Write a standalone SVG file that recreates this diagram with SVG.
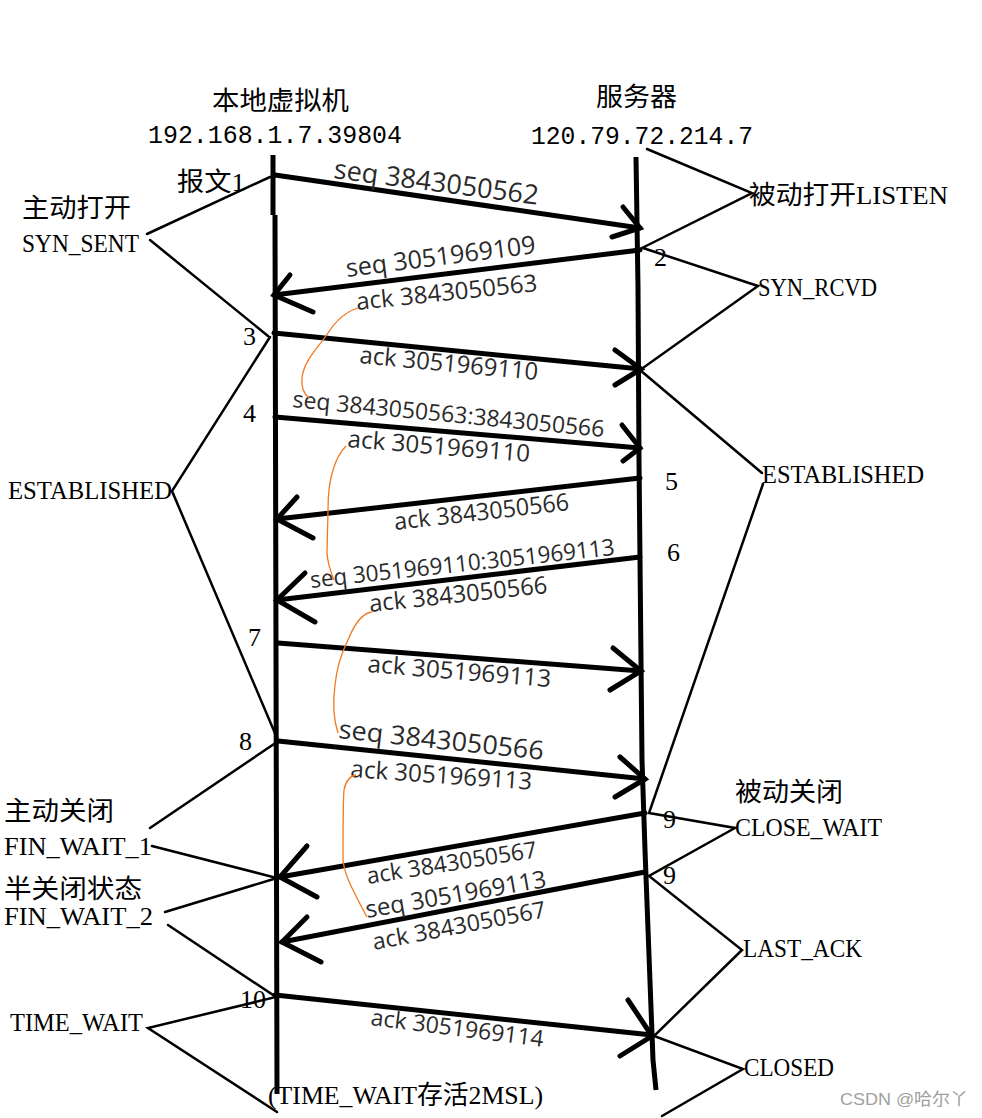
<svg xmlns="http://www.w3.org/2000/svg" width="982" height="1118" viewBox="0 0 982 1118">
<style>
.life{stroke:#000;stroke-width:5;fill:none;stroke-linejoin:round}
.msg{stroke:#000;stroke-width:5;fill:none;stroke-linecap:round}
.head{stroke:#000;stroke-width:5;fill:none;stroke-linecap:round;stroke-linejoin:miter}
.thin{stroke:#000;stroke-width:2.5;fill:none;stroke-linecap:round}
.note{stroke:#f07a22;stroke-width:1.3;fill:none}
.lbl{font-family:"Open Sans","Liberation Sans",sans-serif;fill:#2a2a2a}
.st{font-family:"Liberation Serif","Noto Sans CJK SC",serif;font-size:26px;fill:#000}
.ip{font-family:"Liberation Mono","Noto Sans CJK SC",monospace;font-size:26px;fill:#000}
.wm{font-family:"Liberation Sans","Noto Sans CJK SC",sans-serif;font-size:17px;fill:#a0a0a0}
</style>
<rect width="982" height="1118" fill="#fff"/>

<g id="host-local">
  <text class="st" x="212" y="110" textLength="137" lengthAdjust="spacingAndGlyphs">本地虚拟机</text>
  <text class="ip" x="148" y="143" textLength="254" lengthAdjust="spacingAndGlyphs">192.168.1.7.39804</text>
  <path class="life" d="M273 155 L273 215 M275 215 L277 1094"/>
</g>

<g id="host-server">
  <text class="st" x="596" y="106" textLength="81" lengthAdjust="spacingAndGlyphs">服务器</text>
  <text class="ip" x="531" y="144" textLength="222" lengthAdjust="spacingAndGlyphs">120.79.72.214.7</text>
  <path class="life" d="M636 157 L638 287 L639 460 L642 760 L645 850 L653 1060 L656 1090"/>
</g>

<g id="states-left">
  <text class="st" x="177" y="191" textLength="68" lengthAdjust="spacingAndGlyphs">报文1</text>
  <text class="st" x="22" y="217" textLength="109" lengthAdjust="spacingAndGlyphs">主动打开</text>
  <text class="st" x="22" y="252" textLength="117" lengthAdjust="spacingAndGlyphs">SYN_SENT</text>
  <text class="st" x="8" y="499" textLength="164" lengthAdjust="spacingAndGlyphs">ESTABLISHED</text>
  <text class="st" x="4" y="820" textLength="110" lengthAdjust="spacingAndGlyphs">主动关闭</text>
  <text class="st" x="4" y="855" textLength="148" lengthAdjust="spacingAndGlyphs">FIN_WAIT_1</text>
  <text class="st" x="4" y="898" textLength="138" lengthAdjust="spacingAndGlyphs">半关闭状态</text>
  <text class="st" x="4" y="925" textLength="149" lengthAdjust="spacingAndGlyphs">FIN_WAIT_2</text>
  <text class="st" x="10" y="1031" textLength="133" lengthAdjust="spacingAndGlyphs">TIME_WAIT</text>
  <text class="st" x="268" y="1104" textLength="275" lengthAdjust="spacingAndGlyphs">(TIME_WAIT存活2MSL)</text>
</g>

<g id="states-right">
  <text class="st" x="749" y="204" textLength="199" lengthAdjust="spacingAndGlyphs">被动打开LISTEN</text>
  <text class="st" x="758" y="296" textLength="119" lengthAdjust="spacingAndGlyphs">SYN_RCVD</text>
  <text class="st" x="762" y="483" textLength="162" lengthAdjust="spacingAndGlyphs">ESTABLISHED</text>
  <text class="st" x="735" y="801" textLength="108" lengthAdjust="spacingAndGlyphs">被动关闭</text>
  <text class="st" x="735" y="836" textLength="147" lengthAdjust="spacingAndGlyphs">CLOSE_WAIT</text>
  <text class="st" x="743" y="957" textLength="119" lengthAdjust="spacingAndGlyphs">LAST_ACK</text>
  <text class="st" x="744" y="1076" textLength="90" lengthAdjust="spacingAndGlyphs">CLOSED</text>
</g>

<g id="step-numbers">
  <text class="st" x="654" y="266">2</text>
  <text class="st" x="243" y="345">3</text>
  <text class="st" x="243" y="422">4</text>
  <text class="st" x="665" y="490">5</text>
  <text class="st" x="667" y="561">6</text>
  <text class="st" x="248" y="646">7</text>
  <text class="st" x="239" y="750">8</text>
  <text class="st" x="663" y="828">9</text>
  <text class="st" x="663" y="884">9</text>
  <text class="st" x="240" y="1008" textLength="26" lengthAdjust="spacingAndGlyphs">10</text>
</g>

<g id="connectors">
  <g id="state-lines">
    <path class="thin" d="M147 234 L270 177 M150 240 L268 336"/>
    <path class="thin" d="M270 337 L172 491 L277 738"/>
    <path class="thin" d="M277 742 L150 828 M152 846 L277 878 L165 912 M168 925 L276 997 L148 1028 L277 1112"/>
    <path class="thin" d="M647 149 L752 193 L640 249 M643 248 L758 286 L640 370 L762 473 M763 484 L649 813 L735 828 L649 876 L742 950 L654 1036 L743 1069 L662 1116"/>
  </g>
  <g id="msg1">
    <path class="msg" d="M275 175 L640 228"/>
    <path class="head" d="M623 207 L640 228 L612 237"/>
    <text class="lbl" font-size="27" transform="translate(333,178) rotate(7.5)" textLength="206" lengthAdjust="spacingAndGlyphs">seq 3843050562</text>
  </g>
  <g id="msg2">
    <path class="msg" d="M640 250 L274 295"/>
    <path class="head" d="M290 275 L274 295 L313 312"/>
    <text class="lbl" font-size="25" transform="translate(347,277) rotate(-7.2)" textLength="191" lengthAdjust="spacingAndGlyphs">seq 3051969109</text>
    <text class="lbl" font-size="24" transform="translate(357,310) rotate(-6)" textLength="182" lengthAdjust="spacingAndGlyphs">ack 3843050563</text>
  </g>
  <g id="msg3">
    <path class="msg" d="M274 333 L641 369"/>
    <path class="head" d="M615 350 L641 369 L615 385"/>
    <text class="lbl" font-size="24" transform="translate(359,363) rotate(5.5)" textLength="179" lengthAdjust="spacingAndGlyphs">ack 3051969110</text>
  </g>
  <g id="msg4">
    <path class="msg" d="M275 417 L640 448"/>
    <path class="head" d="M622 425 L640 448 L623 461"/>
    <text class="lbl" font-size="23" transform="translate(292,407) rotate(5.5)" textLength="313" lengthAdjust="spacingAndGlyphs">seq 3843050563:3843050566</text>
    <text class="lbl" font-size="24" transform="translate(347,447) rotate(4.7)" textLength="183" lengthAdjust="spacingAndGlyphs">ack 3051969110</text>
  </g>
  <g id="msg5">
    <path class="msg" d="M640 478 L277 519"/>
    <path class="head" d="M297 497 L277 519 L313 538"/>
    <text class="lbl" font-size="24" transform="translate(395,530) rotate(-6.5)" textLength="176" lengthAdjust="spacingAndGlyphs">ack 3843050566</text>
  </g>
  <g id="msg6">
    <path class="msg" d="M640 557 L277 600"/>
    <path class="head" d="M305 573 L277 600 L315 622"/>
    <text class="lbl" font-size="23" transform="translate(311,588) rotate(-6.2)" textLength="306" lengthAdjust="spacingAndGlyphs">seq 3051969110:3051969113</text>
    <text class="lbl" font-size="24" transform="translate(370,612) rotate(-6.1)" textLength="179" lengthAdjust="spacingAndGlyphs">ack 3843050566</text>
  </g>
  <g id="msg7">
    <path class="msg" d="M278 643 L641 671"/>
    <path class="head" d="M613 648 L641 671 L610 690"/>
    <text class="lbl" font-size="24" transform="translate(367,672) rotate(4.7)" textLength="184" lengthAdjust="spacingAndGlyphs">ack 3051969113</text>
  </g>
  <g id="msg8">
    <path class="msg" d="M278 741 L645 779"/>
    <path class="head" d="M620 757 L645 779 L615 797"/>
    <text class="lbl" font-size="26" transform="translate(338,738) rotate(6.1)" textLength="206" lengthAdjust="spacingAndGlyphs">seq 3843050566</text>
    <text class="lbl" font-size="24" transform="translate(350,777) rotate(4)" textLength="182" lengthAdjust="spacingAndGlyphs">ack 3051969113</text>
  </g>
  <g id="msg9a">
    <path class="msg" d="M645 813 L280 877"/>
    <path class="head" d="M307 846 L280 877 L317 897"/>
    <text class="lbl" font-size="23" transform="translate(368,884) rotate(-9)" textLength="172" lengthAdjust="spacingAndGlyphs">ack 3843050567</text>
  </g>
  <g id="msg9b">
    <path class="msg" d="M645 872 L282 942"/>
    <path class="head" d="M307 917 L282 942 L321 962"/>
    <text class="lbl" font-size="24" transform="translate(367,918) rotate(-9.8)" textLength="183" lengthAdjust="spacingAndGlyphs">seq 3051969113</text>
    <text class="lbl" font-size="23" transform="translate(374,950) rotate(-10.8)" textLength="176" lengthAdjust="spacingAndGlyphs">ack 3843050567</text>
  </g>
  <g id="msg10">
    <path class="msg" d="M275 995 L652 1035"/>
    <path class="head" d="M628 1000 L652 1036 L620 1056"/>
    <text class="lbl" font-size="23" transform="translate(370,1025) rotate(7.2)" textLength="174" lengthAdjust="spacingAndGlyphs">ack 3051969114</text>
  </g>
  <g id="annotations">
    <path class="note" d="M358 308 C345 312 335 322 328 333 C318 348 304 360 302 378 C301 388 304 394 309 398"/>
    <path class="note" d="M346 446 C340 452 336 460 333 470 C329 482 328 495 328 510 L327 553 C328 565 331 573 334 580"/>
    <path class="note" d="M372 612 C362 613 354 625 348 640 C342 652 337 665 335 685 C333 700 333 718 338 733"/>
    <path class="note" d="M356 775 C350 776 346 780 344 790 C343 800 343 840 343 860 C344 870 348 880 352 888 C358 900 363 910 367 917"/>
  </g>
</g>

<text class="wm" x="840" y="1105" textLength="128" lengthAdjust="spacingAndGlyphs">CSDN @哈尔丫</text>
</svg>
